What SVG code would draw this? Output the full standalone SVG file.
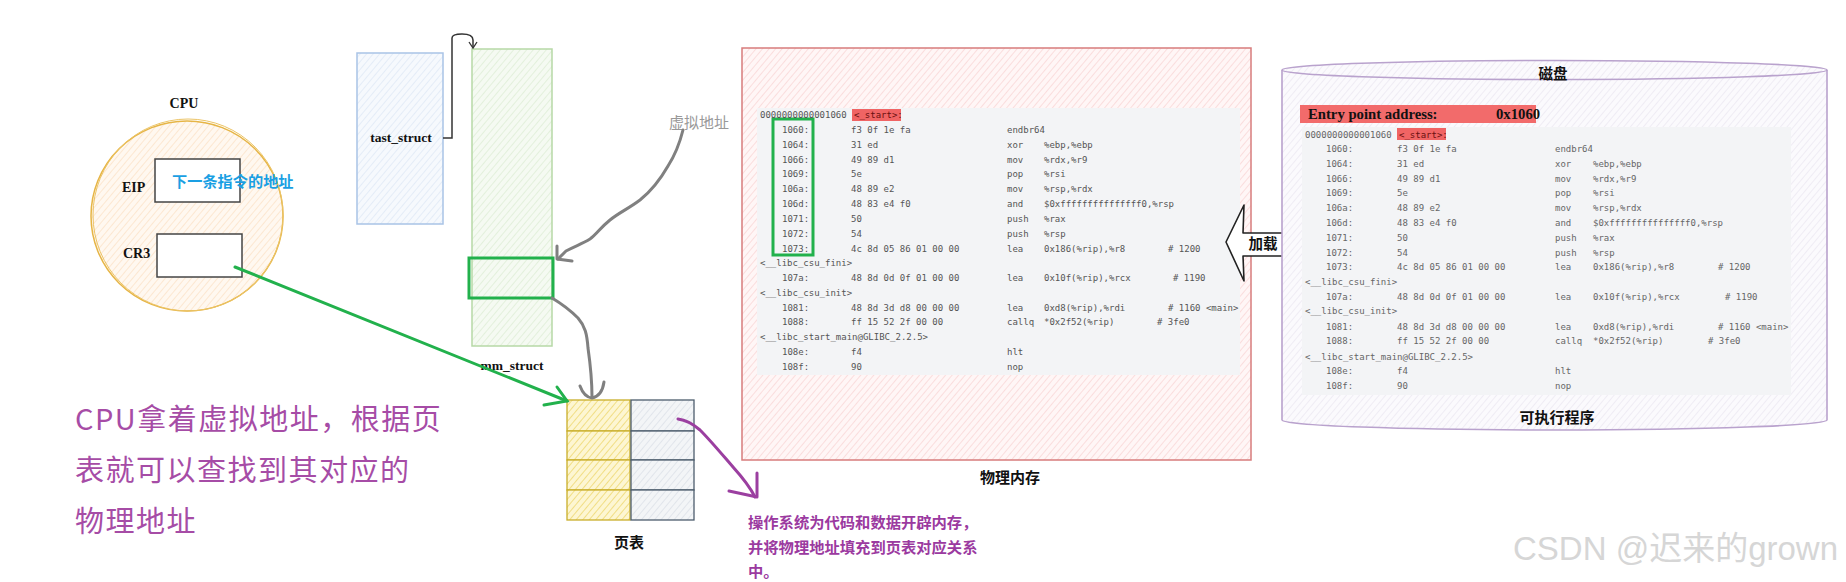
<svg xmlns="http://www.w3.org/2000/svg" width="1846" height="582" viewBox="0 0 1846 582">
<style>
.serif{font-family:"Liberation Serif","Times New Roman",serif;font-weight:bold;fill:#111}
.cjk{font-family:"Noto Sans CJK SC","Noto Sans",sans-serif}
.b{font-weight:bold}
.m9{font-family:"DejaVu Sans Mono","Liberation Mono",monospace;font-size:9px;fill:#555}
.m8{font-family:"DejaVu Sans Mono","Liberation Mono",monospace;font-size:9px;fill:#666}
.gr{fill:none;stroke:#808080;stroke-width:3;stroke-linecap:round;stroke-linejoin:round}
.pu{fill:none;stroke:#9b3fa0;stroke-width:3;stroke-linecap:round;stroke-linejoin:round}
.gn{fill:none;stroke:#22b14c;stroke-width:3;stroke-linecap:round}
</style>
<defs>
<pattern id="hPeach" width="5" height="5" patternUnits="userSpaceOnUse" patternTransform="rotate(40)"><rect width="5" height="5" fill="#fff8f0"/><line x1="0" y1="0" x2="0" y2="5" stroke="#fbe0c4" stroke-width="1.4"/></pattern>
<pattern id="hBlue" width="5" height="5" patternUnits="userSpaceOnUse" patternTransform="rotate(40)"><rect width="5" height="5" fill="#f6f9fd"/><line x1="0" y1="0" x2="0" y2="5" stroke="#dde7f5" stroke-width="1.4"/></pattern>
<pattern id="hGreen" width="5" height="5" patternUnits="userSpaceOnUse" patternTransform="rotate(40)"><rect width="5" height="5" fill="#f5faf2"/><line x1="0" y1="0" x2="0" y2="5" stroke="#dcecd3" stroke-width="1.4"/></pattern>
<pattern id="hPink" width="5" height="5" patternUnits="userSpaceOnUse" patternTransform="rotate(40)"><rect width="5" height="5" fill="#fff6f6"/><line x1="0" y1="0" x2="0" y2="5" stroke="#f8d3d3" stroke-width="1.4"/></pattern>
<pattern id="hPurple" width="5" height="5" patternUnits="userSpaceOnUse" patternTransform="rotate(40)"><rect width="5" height="5" fill="#fbfafd"/><line x1="0" y1="0" x2="0" y2="5" stroke="#ebe6f1" stroke-width="1.4"/></pattern>
<pattern id="hYellow" width="5" height="5" patternUnits="userSpaceOnUse" patternTransform="rotate(40)"><rect width="5" height="5" fill="#fdf6d2"/><line x1="0" y1="0" x2="0" y2="5" stroke="#f0dc7c" stroke-width="1.8"/></pattern>
<pattern id="hGray" width="5" height="5" patternUnits="userSpaceOnUse" patternTransform="rotate(40)"><rect width="5" height="5" fill="#f3f5f7"/><line x1="0" y1="0" x2="0" y2="5" stroke="#dde2e8" stroke-width="1.6"/></pattern>
</defs>
<rect width="1846" height="582" fill="#fff"/>

<g id="cpu">
<text class="serif" x="184" y="108" font-size="14" text-anchor="middle">CPU</text>
<ellipse cx="187" cy="216" rx="96" ry="95" fill="url(#hPeach)" stroke="#e6b546" stroke-width="1.5"/>
<ellipse cx="188" cy="215" rx="95" ry="96" fill="none" stroke="#ecc466" stroke-width="1"/>
</g>
<g id="eip">
<text class="serif" x="122" y="192" font-size="14">EIP</text>
<rect x="155" y="159" width="85" height="43" fill="#fff" stroke="#444" stroke-width="1.5"/>
<text class="cjk b" x="172" y="187" font-size="15.2" fill="#1a9fe3">下一条指令的地址</text>
</g>
<g id="cr3">
<text class="serif" x="123" y="258" font-size="14">CR3</text>
<rect x="157" y="234" width="85" height="43" fill="#fff" stroke="#444" stroke-width="1.5"/>
</g>

<g id="task_struct">
<rect x="357" y="53" width="86" height="171" fill="url(#hBlue)" stroke="#a9c3e6" stroke-width="1.5"/>
<text class="serif" x="401" y="142" font-size="13.5" text-anchor="middle">tast_struct</text>
</g>
<g id="mm_struct">
<rect x="472" y="49" width="80" height="297" fill="url(#hGreen)" stroke="#b6d9a6" stroke-width="1.5"/>
<rect x="469" y="258" width="84" height="40" fill="none" stroke="#22b14c" stroke-width="3"/>
<text class="serif" x="512" y="370" font-size="13.5" text-anchor="middle">mm_struct</text>
</g>
<g id="virt_label">
<text class="cjk" x="669" y="128" font-size="15" fill="#999">虚拟地址</text>
</g>

<g id="page_table">
<rect x="567" y="400" width="63" height="31" fill="url(#hYellow)" stroke="#c9ae2a" stroke-width="1.3"/>
<rect x="567" y="431" width="63" height="29" fill="url(#hYellow)" stroke="#c9ae2a" stroke-width="1.3"/>
<rect x="567" y="460" width="63" height="30" fill="url(#hYellow)" stroke="#c9ae2a" stroke-width="1.3"/>
<rect x="567" y="490" width="63" height="30" fill="url(#hYellow)" stroke="#c9ae2a" stroke-width="1.3"/>
<rect x="631" y="400" width="63" height="31" fill="url(#hGray)" stroke="#4d5d6d" stroke-width="1.3"/>
<rect x="631" y="431" width="63" height="29" fill="url(#hGray)" stroke="#4d5d6d" stroke-width="1.3"/>
<rect x="631" y="460" width="63" height="30" fill="url(#hGray)" stroke="#4d5d6d" stroke-width="1.3"/>
<rect x="631" y="490" width="63" height="30" fill="url(#hGray)" stroke="#4d5d6d" stroke-width="1.3"/>
<text class="cjk b" x="629" y="548" font-size="15" text-anchor="middle" fill="#111">页表</text>
</g>

<g id="physical_memory">
<rect x="742" y="48" width="509" height="412" fill="url(#hPink)" stroke="#d77c7c" stroke-width="1.5"/>
<rect x="757" y="108" width="483" height="267" fill="#f3f4f6"/>
<rect x="852" y="109" width="49" height="12" fill="#f06464"/>
<rect x="773" y="119" width="40" height="136" fill="none" stroke="#22b14c" stroke-width="3"/>
<g class="m9">
<text x="760" y="118">0000000000001060</text><text x="854" y="118" fill="#6a1010">&lt;_start&gt;:</text>
<text x="782" y="133">1060:</text><text x="851" y="133">f3 0f 1e fa</text><text x="1007" y="133">endbr64</text>
<text x="782" y="148">1064:</text><text x="851" y="148">31 ed</text><text x="1007" y="148">xor</text><text x="1044" y="148">%ebp,%ebp</text>
<text x="782" y="163">1066:</text><text x="851" y="163">49 89 d1</text><text x="1007" y="163">mov</text><text x="1044" y="163">%rdx,%r9</text>
<text x="782" y="177">1069:</text><text x="851" y="177">5e</text><text x="1007" y="177">pop</text><text x="1044" y="177">%rsi</text>
<text x="782" y="192">106a:</text><text x="851" y="192">48 89 e2</text><text x="1007" y="192">mov</text><text x="1044" y="192">%rsp,%rdx</text>
<text x="782" y="207">106d:</text><text x="851" y="207">48 83 e4 f0</text><text x="1007" y="207">and</text><text x="1044" y="207">$0xfffffffffffffff0,%rsp</text>
<text x="782" y="222">1071:</text><text x="851" y="222">50</text><text x="1007" y="222">push</text><text x="1044" y="222">%rax</text>
<text x="782" y="237">1072:</text><text x="851" y="237">54</text><text x="1007" y="237">push</text><text x="1044" y="237">%rsp</text>
<text x="782" y="252">1073:</text><text x="851" y="252">4c 8d 05 86 01 00 00</text><text x="1007" y="252">lea</text><text x="1044" y="252">0x186(%rip),%r8</text><text x="1168" y="252"># 1200</text>
<text x="760" y="266">&lt;__libc_csu_fini&gt;</text>
<text x="782" y="281">107a:</text><text x="851" y="281">48 8d 0d 0f 01 00 00</text><text x="1007" y="281">lea</text><text x="1044" y="281">0x10f(%rip),%rcx</text><text x="1173" y="281"># 1190</text>
<text x="760" y="296">&lt;__libc_csu_init&gt;</text>
<text x="782" y="311">1081:</text><text x="851" y="311">48 8d 3d d8 00 00 00</text><text x="1007" y="311">lea</text><text x="1044" y="311">0xd8(%rip),%rdi</text><text x="1168" y="311"># 1160 &lt;main&gt;</text>
<text x="782" y="325">1088:</text><text x="851" y="325">ff 15 52 2f 00 00</text><text x="1007" y="325">callq</text><text x="1044" y="325">*0x2f52(%rip)</text><text x="1157" y="325"># 3fe0</text>
<text x="760" y="340">&lt;__libc_start_main@GLIBC_2.2.5&gt;</text>
<text x="782" y="355">108e:</text><text x="851" y="355">f4</text><text x="1007" y="355">hlt</text>
<text x="782" y="370">108f:</text><text x="851" y="370">90</text><text x="1007" y="370">nop</text>
</g>
<text class="cjk b" x="1010" y="483" font-size="15" text-anchor="middle" fill="#111">物理内存</text>
</g>

<g id="load_arrow">
<path d="M1226,242 L1244,205 L1243,233 L1297,233 L1297,256 L1243,256 L1244,281 Z" fill="#fff" stroke="#222" stroke-width="1.6" stroke-linejoin="round"/>
<text class="cjk b" x="1263" y="249" font-size="14.5" text-anchor="middle" fill="#111">加载</text>
</g>

<g id="disk">
<path d="M1282,70 L1282,420 A272.5,10 0 0 0 1827,420 L1827,70" fill="url(#hPurple)" stroke="#b9a2cd" stroke-width="1.6"/>
<ellipse cx="1554.5" cy="70" rx="272.5" ry="9.5" fill="url(#hPurple)" stroke="#b9a2cd" stroke-width="1.6"/>
<text class="cjk b" x="1553" y="79" font-size="14.5" text-anchor="middle" fill="#111">磁盘</text>
<rect x="1300" y="105" width="236" height="18" fill="#f26b6b"/>
<text class="serif" x="1308" y="119" font-size="14.7">Entry point address:</text>
<text class="serif" x="1496" y="119" font-size="14.7">0x1060</text>
<rect x="1302" y="127" width="489" height="268" fill="#f3f4f6"/>
<rect x="1397" y="128" width="49" height="12" fill="#f06464"/>
<g class="m8">
<text x="1305" y="138">0000000000001060</text><text x="1399" y="138" fill="#6a1010">&lt;_start&gt;:</text>
<text x="1326" y="152">1060:</text><text x="1397" y="152">f3 0f 1e fa</text><text x="1555" y="152">endbr64</text>
<text x="1326" y="167">1064:</text><text x="1397" y="167">31 ed</text><text x="1555" y="167">xor</text><text x="1593" y="167">%ebp,%ebp</text>
<text x="1326" y="182">1066:</text><text x="1397" y="182">49 89 d1</text><text x="1555" y="182">mov</text><text x="1593" y="182">%rdx,%r9</text>
<text x="1326" y="196">1069:</text><text x="1397" y="196">5e</text><text x="1555" y="196">pop</text><text x="1593" y="196">%rsi</text>
<text x="1326" y="211">106a:</text><text x="1397" y="211">48 89 e2</text><text x="1555" y="211">mov</text><text x="1593" y="211">%rsp,%rdx</text>
<text x="1326" y="226">106d:</text><text x="1397" y="226">48 83 e4 f0</text><text x="1555" y="226">and</text><text x="1593" y="226">$0xfffffffffffffff0,%rsp</text>
<text x="1326" y="241">1071:</text><text x="1397" y="241">50</text><text x="1555" y="241">push</text><text x="1593" y="241">%rax</text>
<text x="1326" y="256">1072:</text><text x="1397" y="256">54</text><text x="1555" y="256">push</text><text x="1593" y="256">%rsp</text>
<text x="1326" y="270">1073:</text><text x="1397" y="270">4c 8d 05 86 01 00 00</text><text x="1555" y="270">lea</text><text x="1593" y="270">0x186(%rip),%r8</text><text x="1718" y="270"># 1200</text>
<text x="1305" y="285">&lt;__libc_csu_fini&gt;</text>
<text x="1326" y="300">107a:</text><text x="1397" y="300">48 8d 0d 0f 01 00 00</text><text x="1555" y="300">lea</text><text x="1593" y="300">0x10f(%rip),%rcx</text><text x="1725" y="300"># 1190</text>
<text x="1305" y="314">&lt;__libc_csu_init&gt;</text>
<text x="1326" y="330">1081:</text><text x="1397" y="330">48 8d 3d d8 00 00 00</text><text x="1555" y="330">lea</text><text x="1593" y="330">0xd8(%rip),%rdi</text><text x="1718" y="330"># 1160 &lt;main&gt;</text>
<text x="1326" y="344">1088:</text><text x="1397" y="344">ff 15 52 2f 00 00</text><text x="1555" y="344">callq</text><text x="1593" y="344">*0x2f52(%rip)</text><text x="1708" y="344"># 3fe0</text>
<text x="1305" y="360">&lt;__libc_start_main@GLIBC_2.2.5&gt;</text>
<text x="1326" y="374">108e:</text><text x="1397" y="374">f4</text><text x="1555" y="374">hlt</text>
<text x="1326" y="389">108f:</text><text x="1397" y="389">90</text><text x="1555" y="389">nop</text>
</g>
<text class="cjk b" x="1557" y="423" font-size="15" text-anchor="middle" fill="#111">可执行程序</text>
</g>

<g id="connectors">
<path d="M443,138 L452,138 L452,38 Q452,34 462,34 Q473,34 473,40 L473,47" fill="none" stroke="#333" stroke-width="1.5"/>
<path d="M469,42 L473,48 L477,42" fill="none" stroke="#333" stroke-width="1.3"/>
<path class="gr" d="M683,130 C680,142 677,152 668,166 C660,180 650,192 640,200 C628,209 620,212 610,220 C600,228 597,234 590,239 C582,244 575,246 566,251 L558,259"/>
<path class="gr" d="M557,246 L557,259 L572,261"/>
<path class="gr" d="M552,298 C562,304 570,310 578,318 C585,326 587,334 588,348 C590,362 592,378 592,397"/>
<path class="gr" d="M580,386 Q584,397 592,398 Q602,396 604,382"/>
<line class="gn" x1="235" y1="267" x2="567" y2="401"/>
<path class="gn" d="M557,387 L567,401 L544,405"/>
<path class="pu" d="M678,419 C686,420 692,423 700,430 C710,440 720,452 733,467 C742,477 750,487 755,497"/>
<path class="pu" d="M757,473 L757,497 L729,491"/>
</g>

<g id="note_left">
<text class="cjk" font-size="29" fill="#a64ca6" letter-spacing="1.5"><tspan x="75" y="430">CPU拿着虚拟地址，根据页</tspan><tspan x="75" y="481">表就可以查找到其对应的</tspan><tspan x="75" y="532">物理地址</tspan></text>
</g>
<g id="note_right">
<text class="cjk b" font-size="15.3" fill="#9b3aa0"><tspan x="748" y="528">操作系统为代码和数据开辟内存，</tspan><tspan x="748" y="553">并将物理地址填充到页表对应关系</tspan><tspan x="748" y="577">中。</tspan></text>
</g>
<text x="1513" y="560" font-family="Liberation Sans,'Noto Sans CJK SC',sans-serif" font-size="33" fill="#d6d6d6">CSDN @迟来的grown</text>
</svg>
